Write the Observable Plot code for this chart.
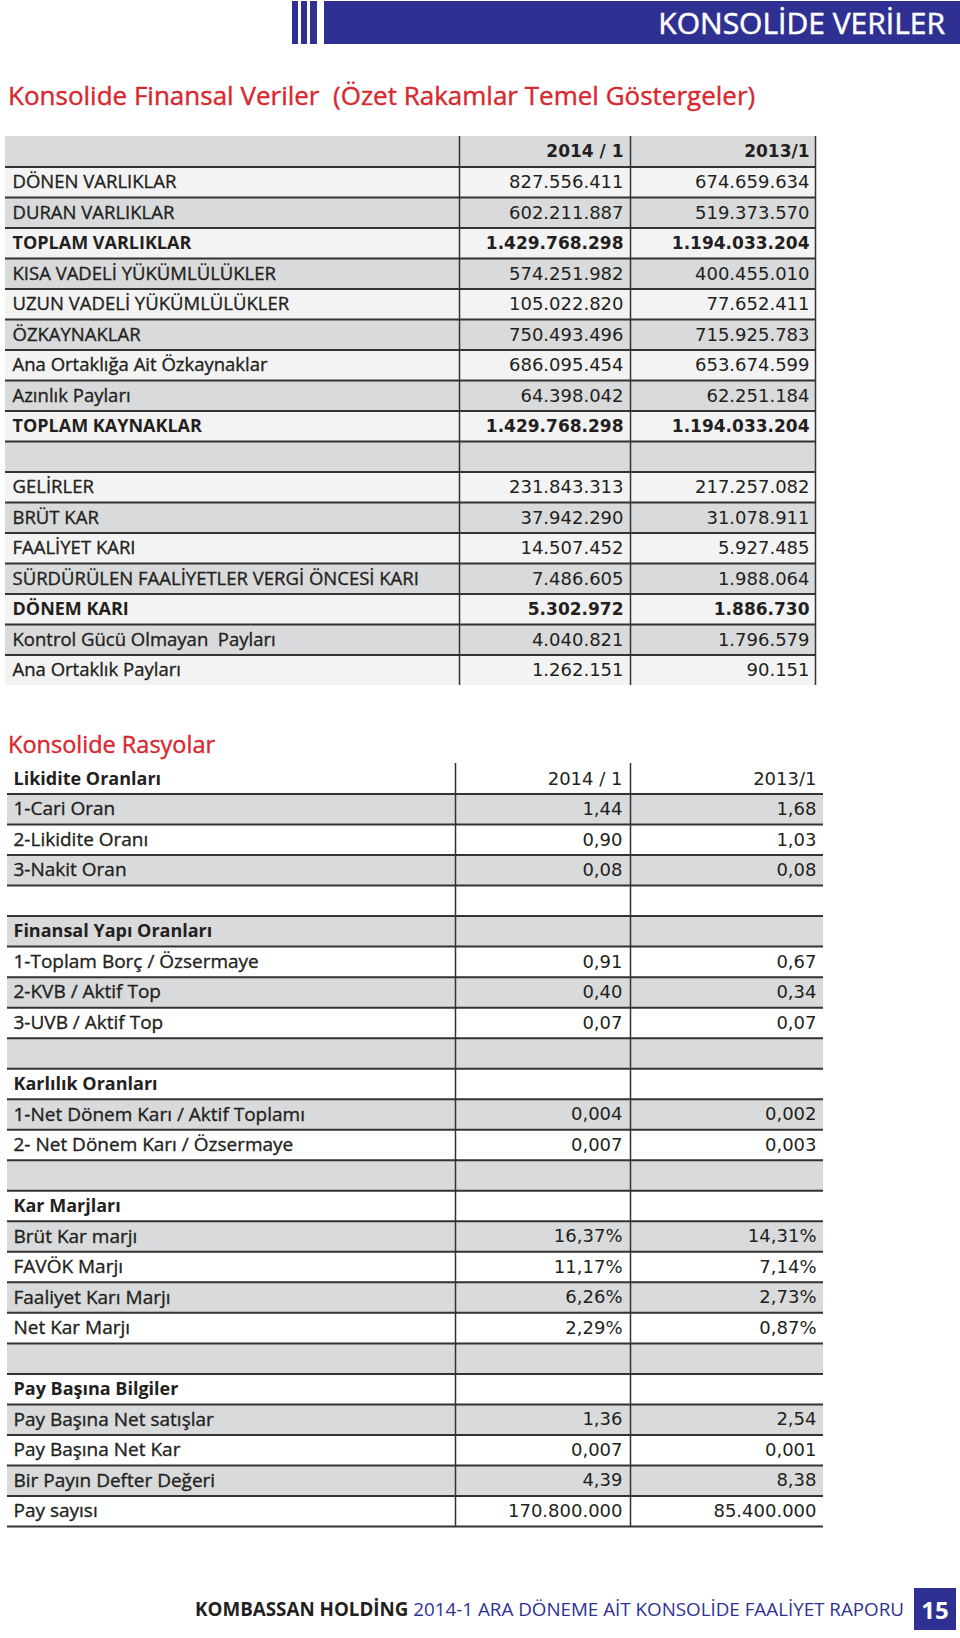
<!DOCTYPE html>
<html>
<head>
<meta charset="utf-8">
<script src="https://cdn.jsdelivr.net/npm/d3@7"></script>
<script src="https://cdn.jsdelivr.net/npm/@observablehq/plot@0.6"></script>
<style>
  html, body { margin: 0; padding: 0; background: #fff; }
  body { width: 960px; height: 1638px; position: relative; overflow: hidden; font-family: "Open Sans", sans-serif; color: #231f20; }
  .abs { position: absolute; }
  .stripe { position: absolute; top: 1px; height: 43px; background: #2e3192; }
  #bar { left: 324px; top: 1px; width: 636px; height: 43px; background: #2e3192; color: #fff;
         display: flex; align-items: center; justify-content: flex-end; box-sizing: border-box; padding-right: 15px;
         font-size: 30px; -webkit-text-stroke: 0.5px #fff; }
  .title { left: 8px; color: #d7282f; line-height: 30px; white-space: pre; -webkit-text-stroke: 0.4px #d7282f; }
  #footer { right: 56px; top: 1594px; line-height: 30px; font-size: 18.8px; white-space: pre; }
  #footer b { color: #231f20; font-weight: 700; }
  #footer span { color: #2e3192; }
  #page { left: 914px; top: 1588px; width: 42px; height: 42px; background: #2e3192; color: #fff; font-size: 24px;
          font-weight: 700; display: flex; align-items: center; justify-content: center; }
</style>
</head>
<body>
<div class="stripe" style="left:292px;width:6px"></div>
<div class="stripe" style="left:301px;width:6px"></div>
<div class="stripe" style="left:310px;width:7px"></div>
<div class="abs" id="bar">KONSOLİDE VERİLER</div>
<div class="abs title" style="top:80px;font-size:26px">Konsolide Finansal Veriler  (Özet Rakamlar Temel Göstergeler)</div>
<div class="abs" id="t1" style="left:0;top:136px"></div>
<div class="abs title" style="top:729px;font-size:23.5px">Konsolide Rasyolar</div>
<div class="abs" id="t2" style="left:0;top:763px"></div>
<div class="abs" id="footer"><b>KOMBASSAN HOLDİNG</b><span> 2014-1 ARA DÖNEME AİT KONSOLİDE FAALİYET RAPORU</span></div>
<div class="abs" id="page">15</div>

<script>
// ---------- DATA ----------
const periods = ["2014 / 1", "2013/1"];

const finLabels = [
  "DÖNEN VARLIKLAR", "DURAN VARLIKLAR", "TOPLAM VARLIKLAR", "KISA VADELİ YÜKÜMLÜLÜKLER",
  "UZUN VADELİ YÜKÜMLÜLÜKLER", "ÖZKAYNAKLAR", "Ana Ortaklığa Ait Özkaynaklar", "Azınlık Payları",
  "TOPLAM KAYNAKLAR", "", "GELİRLER", "BRÜT KAR", "FAALİYET KARI",
  "SÜRDÜRÜLEN FAALİYETLER VERGİ ÖNCESİ KARI", "DÖNEM KARI", "Kontrol Gücü Olmayan  Payları",
  "Ana Ortaklık Payları"
];
const fin2014 = [827556411, 602211887, 1429768298, 574251982, 105022820, 750493496, 686095454, 64398042,
  1429768298, null, 231843313, 37942290, 14507452, 7486605, 5302972, 4040821, 1262151];
const fin2013 = [674659634, 519373570, 1194033204, 400455010, 77652411, 715925783, 653674599, 62251184,
  1194033204, null, 217257082, 31078911, 5927485, 1988064, 1886730, 1796579, 90151];
const finBold = ["TOPLAM VARLIKLAR", "TOPLAM KAYNAKLAR", "DÖNEM KARI"];

const ratioLabels = [
  "Likidite Oranları", "1-Cari Oran", "2-Likidite Oranı", "3-Nakit Oran", "",
  "Finansal Yapı Oranları", "1-Toplam Borç / Özsermaye", "2-KVB / Aktif Top", "3-UVB / Aktif Top", "",
  "Karlılık Oranları", "1-Net Dönem Karı / Aktif Toplamı", "2- Net Dönem Karı / Özsermaye", "",
  "Kar Marjları", "Brüt Kar marjı", "FAVÖK Marjı", "Faaliyet Karı Marjı", "Net Kar Marjı", "",
  "Pay Başına Bilgiler", "Pay Başına Net satışlar", "Pay Başına Net Kar", "Bir Payın Defter Değeri", "Pay sayısı"
];
const ratio2014 = ["", "1,44", "0,90", "0,08", "", "", "0,91", "0,40", "0,07", "", "", "0,004", "0,007", "",
  "", "16,37%", "11,17%", "6,26%", "2,29%", "", "", "1,36", "0,007", "4,39", "170.800.000"];
const ratio2013 = ["", "1,68", "1,03", "0,08", "", "", "0,67", "0,34", "0,07", "", "", "0,002", "0,003", "",
  "", "14,31%", "7,14%", "2,73%", "0,87%", "", "", "2,54", "0,001", "8,38", "85.400.000"];
const ratioHeads = ["Likidite Oranları", "Finansal Yapı Oranları", "Karlılık Oranları", "Kar Marjları", "Pay Başına Bilgiler"];

// ---------- BUILD ROWS ----------
const tr = d3.formatLocale({decimal: ",", thousands: ".", grouping: [3], currency: ["", ""]});
const fmt = tr.format(",d");

const finRows = [{label: "", a: periods[0], b: periods[1], boldLabel: false, boldValue: true}]
  .concat(finLabels.map((l, i) => ({
    label: l,
    a: fin2014[i] == null ? "" : fmt(fin2014[i]),
    b: fin2013[i] == null ? "" : fmt(fin2013[i]),
    boldLabel: finBold.includes(l),
    boldValue: finBold.includes(l)
  })));

const ratioRows = ratioLabels.map((l, i) => ({
  label: l,
  a: i === 0 ? periods[0] : ratio2014[i],
  b: i === 0 ? periods[1] : ratio2013[i],
  boldLabel: ratioHeads.includes(l),
  boldValue: false
}));

// ---------- LAYOUT ----------
const INK = "#231f20";
const LINE = "#333333";
const labelFont = "Open Sans";
const valueFont = "DejaVu Sans";

function drawTable(rows, L) {
  const n = rows.length;
  const H = Math.round(n * L.rowH);
  const y = (d, i) => i + 0.5;
  const textMarks = [
    Plot.text(rows, {filter: d => !d.boldLabel, x: L.labelX, y, text: "label", textAnchor: "start",
      fontFamily: labelFont, fontSize: L.labelSize, fill: INK, stroke: INK, strokeWidth: 0.35}),
    Plot.text(rows, {filter: d => d.boldLabel, x: L.labelX, y, text: "label", textAnchor: "start",
      fontFamily: labelFont, fontSize: L.boldLabelSize, fontWeight: 700, fill: INK}),
  ];
  for (const [key, xr] of [["a", L.valA], ["b", L.valB]]) {
    textMarks.push(
      Plot.text(rows, {filter: d => !d.boldValue, x: xr, y, text: key, textAnchor: "end",
        fontFamily: valueFont, fontSize: L.valueSize, fill: INK}),
      Plot.text(rows, {filter: d => d.boldValue, x: xr, y, text: key, textAnchor: "end",
        fontFamily: valueFont, fontSize: L.boldValueSize, fontWeight: 700, fill: INK})
    );
  }
  return Plot.plot({
    width: 960, height: H, margin: 0,
    x: {type: "linear", domain: [0, 960], range: [0, 960], axis: null},
    y: {type: "linear", domain: [0, n], range: [0, H], axis: null},
    color: {type: "identity"},
    style: {background: "transparent", overflow: "visible"},
    marks: [
      Plot.rect(rows, {x1: L.left, x2: L.right, y1: (d, i) => i, y2: (d, i) => i + 1,
        fill: (d, i) => (i % 2 === L.grayParity ? L.gray : L.light)}),
      Plot.ruleY(L.hLines(n), {x1: L.left, x2: L.right, stroke: LINE, strokeWidth: 2}),
      Plot.ruleX(L.vLines, {y1: 0, y2: n, stroke: LINE, strokeWidth: 1.5}),
      ...textMarks
    ]
  });
}

document.getElementById("t1").append(drawTable(finRows, {
  rowH: 30.5, left: 5, right: 815, grayParity: 0, gray: "#d9dadb", light: "#f3f3f3",
  hLines: n => d3.range(1, n), vLines: [459, 630, 815],
  labelX: 12, valA: 623, valB: 809,
  labelSize: 18.5, boldLabelSize: 18, valueSize: 18, boldValueSize: 17
}));

document.getElementById("t2").append(drawTable(ratioRows, {
  rowH: 30.5, left: 7, right: 823, grayParity: 1, gray: "#d9dadb", light: "#ffffff",
  hLines: n => d3.range(1, n + 1), vLines: [455, 630],
  labelX: 13, valA: 622, valB: 816,
  labelSize: 19, boldLabelSize: 18, valueSize: 18, boldValueSize: 17
}));
</script>
</body>
</html>
